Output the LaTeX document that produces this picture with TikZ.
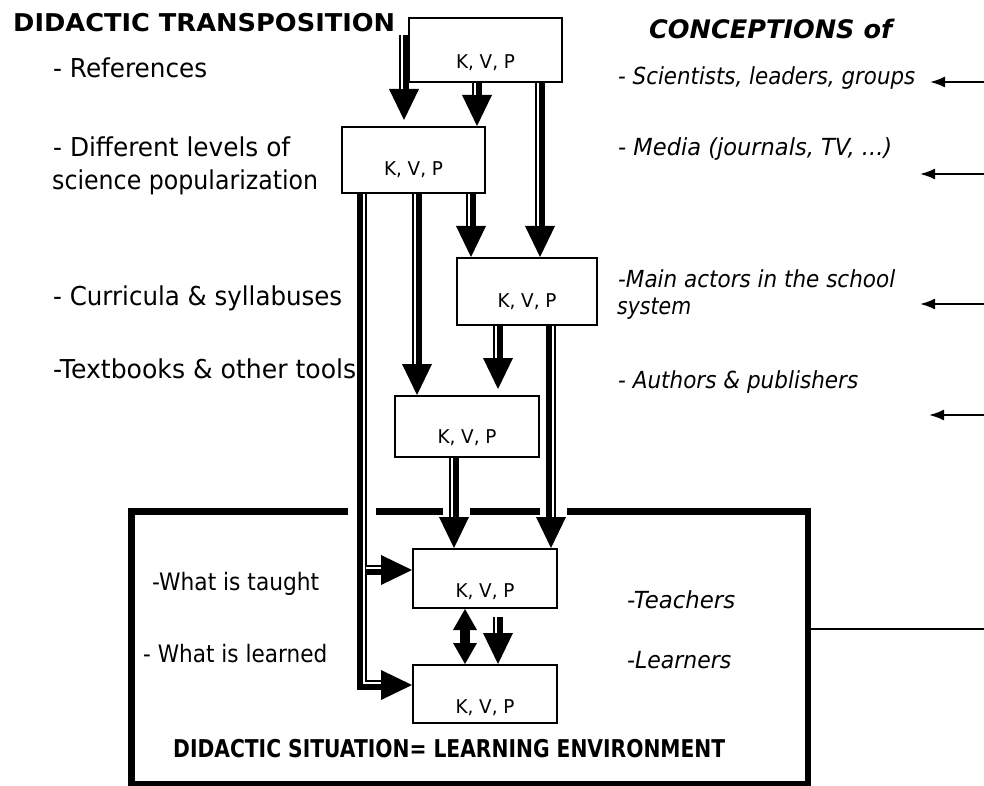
\documentclass[tikz,border=0pt]{standalone}
\usepackage{fontspec}
\setmainfont{DejaVu Sans}
\usepackage{graphicx}
\usetikzlibrary{arrows.meta,calc}
\newcommand\fw[2]{\resizebox{#1pt}{\height}{#2}}
\newcommand\fatL[2]{\draw[shaft] #1 -- #2; \draw[stripe,transform canvas={xshift=-2.2pt}] #1 -- #2;}
\newcommand\fatR[2]{\draw[shaft] #1 -- #2; \draw[stripe,transform canvas={xshift=2.2pt}] #1 -- #2;}
\tikzset{
  txt/.style={inner sep=0pt, anchor=base west},
  lbl/.style={txt, font=\fontsize{26}{30}\selectfont},
  lbls/.style={txt, font=\fontsize{24}{28}\selectfont},
  ital/.style={txt, font=\fontsize{23.5}{27}\selectfont\itshape},
  head/.style={txt, font=\fontsize{24.5}{28}\selectfont\bfseries},
  headi/.style={txt, font=\fontsize{25.5}{29}\selectfont\bfseries\itshape},
  kvp/.style={inner sep=0pt, anchor=base, font=\fontsize{19}{21}\selectfont},
  kbox/.style={draw, line width=2pt, fill=white, inner sep=0pt},
  shaft/.style={line width=10pt, -{Triangle[width=30pt,length=31pt,line width=0pt]}},
  stripe/.style={white, line width=1.8pt, shorten >=31pt},
  thinarrow/.style={line width=2pt, -{Latex[length=15pt,width=11pt]}},
  frame/.style={line width=6.5pt},
}
\begin{document}
\begin{tikzpicture}[x=1pt,y=-1pt]
\useasboundingbox (0,0) rectangle (984,786);
\fill[white] (0,0) rectangle (984,786);

% boxes
\node[kbox, minimum width=153pt, minimum height=64pt] (b1) at (485.5,50) {};
\node[kbox, minimum width=143pt, minimum height=66pt] (b2) at (413.5,160) {};
\node[kbox, minimum width=140pt, minimum height=67pt] (b3) at (527,291.5) {};
\node[kbox, minimum width=144pt, minimum height=61pt] (b4) at (467,426.5) {};
\node[kbox, minimum width=144pt, minimum height=59pt] (b5) at (485,578.5) {};
\node[kbox, minimum width=144pt, minimum height=58pt] (b6) at (485,694) {};

\node[kvp] (k1) at ($(b1.center)+(0,19)$) {\fw{59}{K, V, P}};
\node[kvp] (k2) at ($(b2.center)+(0,16)$) {\fw{59}{K, V, P}};
\node[kvp] (k3) at ($(b3.center)+(0,15.5)$) {\fw{59}{K, V, P}};
\node[kvp] (k4) at ($(b4.center)+(0,16.5)$) {\fw{59}{K, V, P}};
\node[kvp] (k5) at ($(b5.center)+(0,18.5)$) {\fw{59}{K, V, P}};
\node[kvp] (k6) at ($(b6.center)+(0,19)$) {\fw{59}{K, V, P}};

% environment frame
\coordinate (envnw) at (131.5,511.5);
\coordinate (envse) at (808,784);
\coordinate (g1) at (348,511.5);
\coordinate (g2) at (376,511.5);
\coordinate (g3) at (443,511.5);
\coordinate (g4) at (470,511.5);
\coordinate (g5) at (540,511.5);
\coordinate (g6) at (567,511.5);
\draw[frame, line join=miter] (g1) -- (envnw) -- (envnw |- envse) -- (envse) -- (envse |- envnw) -- (g6);
\draw[frame] (g2) -- (g3);
\draw[frame] (g4) -- (g5);

% arrow columns
\coordinate (xa1) at (404,0);
\coordinate (xa2) at (477,0);
\coordinate (xa3) at (540,0);
\coordinate (xa4) at (471,0);
\coordinate (xa5) at (417,0);
\coordinate (xa6) at (362,0);
\coordinate (xa7) at (498,0);
\coordinate (xa8) at (551,0);
\coordinate (xa9) at (454,0);
\coordinate (xa10) at (465,0);
\coordinate (xa11) at (498,0);
\coordinate (a1s) at (404,35);

\fatL{(a1s)}{($(b2.north -| xa1)+(0,-6)$)}
\fatL{(b1.south -| xa2)}{(b2.north -| xa2)}
\fatL{(b1.south -| xa3)}{(b3.north -| xa3)}
\fatL{(b2.south -| xa4)}{(b3.north -| xa4)}
\fatL{(b2.south -| xa5)}{(b4.north -| xa5)}
\fatL{(b3.south -| xa7)}{($(b4.north -| xa7)+(0,-6)$)}
\fatR{(b3.south -| xa8)}{(b5.north -| xa8)}
\fatL{(b4.south -| xa9)}{(b5.north -| xa9)}
\fatL{($(b5.south -| xa11)+(0,8)$)}{(b6.north -| xa11)}

% long left arrow with two branches
\coordinate (a6c) at (362,685);
\coordinate (a6b) at (362,570);
\draw[shaft, line join=miter] (b2.south -| xa6) -- (a6c) -- (b6.west |- a6c);
\draw[shaft] (a6b) -- (b5.west |- a6b);
\draw[white, line width=1.8pt] ($(b2.south -| xa6)+(2.2,0)$) -- ($(a6c)+(2.2,-2.2)$) -- ($(b6.west |- a6c)+(-31,-2.2)$);
\draw[white, line width=1.8pt] ($(a6b)+(4,-2.2)$) -- ($(b5.west |- a6b)+(-31,-2.2)$);

% double arrow
\draw[line width=10pt, {Triangle[width=24pt,length=21pt,line width=0pt]}-{Triangle[width=24pt,length=21pt,line width=0pt]}] (b5.south -| xa10) -- (b6.north -| xa10);

% right side arrows
\coordinate (r1s) at (984,82);  \coordinate (r1e) at (930,82);
\coordinate (r2s) at (984,174); \coordinate (r2e) at (920,174);
\coordinate (r3s) at (984,304); \coordinate (r3e) at (920,304);
\coordinate (r4s) at (984,415); \coordinate (r4e) at (929,415);
\draw[thinarrow] (r1s) -- (r1e);
\draw[thinarrow] (r2s) -- (r2e);
\draw[thinarrow] (r3s) -- (r3e);
\draw[thinarrow] (r4s) -- (r4e);
\coordinate (r5e) at (984,629);
\draw[line width=2pt] (envse |- r5e) -- (r5e);

% texts
\node[head] (t1) at (13,32) {\fw{382}{DIDACTIC TRANSPOSITION}};
\node[headi] (t2) at (649,39) {\fw{243}{CONCEPTIONS of}};

\node[lbl] (l1) at (53,78) {\fw{154}{- References}};
\node[lbl] (l2) at (53,157) {\fw{237}{- Different levels of}};
\node[lbl] (l2b) at (52,190) {\fw{266}{science popularization}};
\node[lbl] (l3) at (53,305) {\fw{289}{- Curricula \& syllabuses}};
\node[lbl] (l4) at (53,378) {\fw{303}{-Textbooks \& other tools}};

\node[ital] (c1) at (618,85) {\fw{297}{- Scientists, leaders, groups}};
\node[ital] (c2) at (618,156) {\fw{274}{- Media (journals, TV, ...)}};
\node[ital] (c3) at (618,287) {\fw{277}{-Main actors in the school}};
\node[ital] (c3b) at (617,314) {\fw{74}{system}};
\node[ital] (c4) at (618,388) {\fw{240}{- Authors \& publishers}};

\node[lbls] (w1) at (152,590) {\fw{167}{-What is taught}};
\node[lbls] (w2) at (143,662) {\fw{184}{- What is learned}};
\node[ital] (w3) at (627,608) {\fw{108}{-Teachers}};
\node[ital] (w4) at (627,668) {\fw{104}{-Learners}};
\node[head] (w5) at (173,757) {\fw{552}{DIDACTIC SITUATION= LEARNING ENVIRONMENT}};
\end{tikzpicture}
\end{document}
